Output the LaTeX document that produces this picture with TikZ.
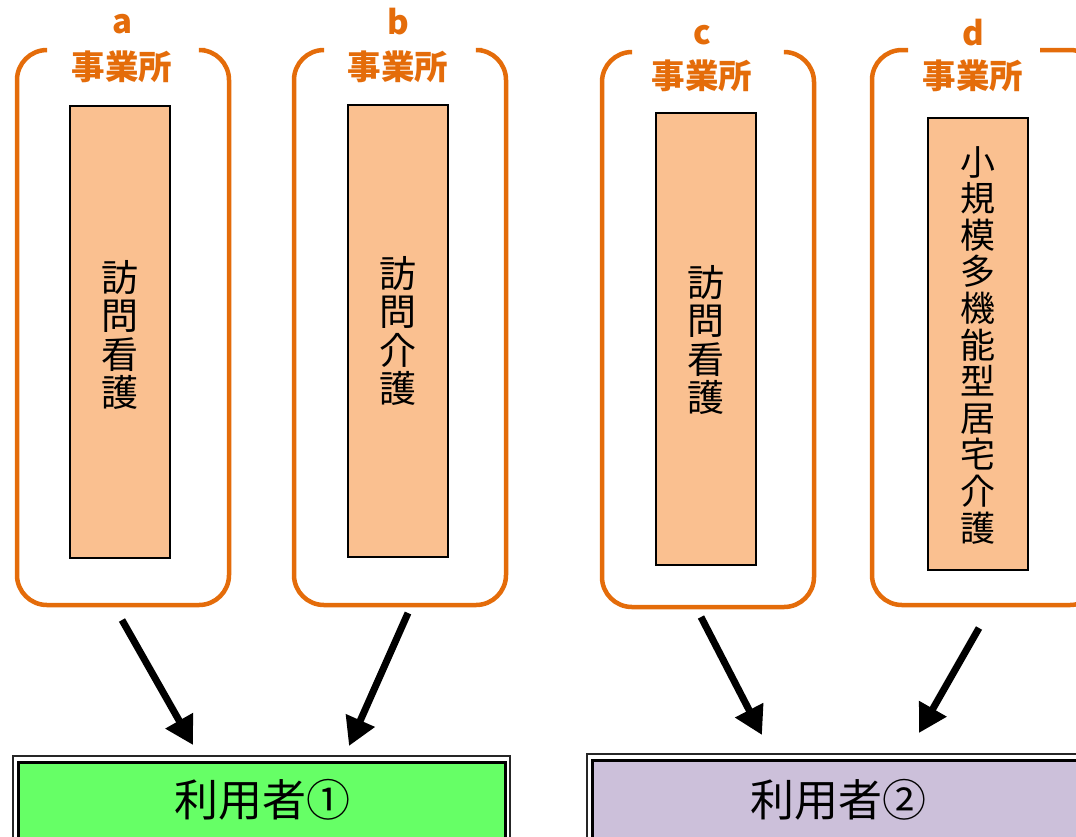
\documentclass[tikz,border=0pt]{standalone}
\usepackage{fontspec}
\newfontfamily\jp{Noto Sans CJK JP}
\usetikzlibrary{arrows.meta}
\definecolor{orng}{HTML}{E46C0A}
\definecolor{svcfill}{HTML}{FAC090}
\definecolor{grn}{HTML}{66FF66}
\definecolor{lav}{HTML}{CCC0DA}
\newcommand{\grpframe}[6]{% x1 x2 ytop ybot gapL gapR
  \draw[frm] (#5,#3) -| (#1,#4) -| (#2,#3) -- (#6,#3);}
\begin{document}
\begin{tikzpicture}[x=1pt,y=-1pt,
  frm/.style={draw=orng,line width=4.5pt,rounded corners=30pt},
  lbl/.style={text=orng,font=\jp\bfseries\fontsize{33.5}{33.5}\selectfont,inner sep=0pt},
  ltr/.style={text=orng,font=\jp\bfseries\fontsize{33}{33}\selectfont,inner sep=0pt},
  svc/.style={draw=black,line width=2pt,fill=svcfill,minimum width=100pt,minimum height=452pt,inner sep=0pt,align=center},
  vt/.style={font=\jp\fontsize{37}{38.5}\selectfont},
  vtd/.style={font=\jp\fontsize{35}{36.6}\selectfont},
  arr/.style={line width=7pt,-{Triangle[length=28pt,width=30pt]}},
  uout/.style={draw=black!85,line width=1.8pt,fill=white,inner sep=0pt},
  uin/.style={draw=black,line width=3pt,inner sep=0pt},
  utxt/.style={font=\jp\fontsize{44}{44}\selectfont,inner sep=0pt},
  ]
\useasboundingbox (0,0) rectangle (1076,836);
\clip (0,0) rectangle (1076,836);

% group frames
\grpframe{17}{229}{50}{605}{44}{205}
\grpframe{294}{506}{50}{605}{321}{482}
\grpframe{602}{814}{52}{607}{629}{788}
\grpframe{872}{1100}{50}{605}{908}{1040}

% labels
\node[ltr] (la) at (122,24) {a};
\node[lbl] (ja) at (122,67) {事業所};
\node[ltr] (lb) at (398,22) {b};
\node[lbl] (jb) at (398,67) {事業所};
\node[ltr] (lc) at (702,35) {c};
\node[lbl] (jc) at (702,76) {事業所};
\node[ltr] (ld) at (973,33) {d};
\node[lbl] (jd) at (973,76) {事業所};

% service boxes
\node[svc] (sa) at (119.5,332) {};
\node[vt] (ta) at (120,335) [align=center] {訪\\問\\看\\護};
\node[svc] (sb) at (398,331) {};
\node[vt] (tb) at (398,331) [align=center] {訪\\問\\介\\護};
\node[svc] (sc) at (705.5,339) {};
\node[vt] (tc) at (706,340) [align=center] {訪\\問\\看\\護};
\node[svc] (sd) at (977.5,344) {};
\node[vtd] (td) at (978,345) [align=center] {小\\規\\模\\多\\機\\能\\型\\居\\宅\\介\\護};

% user boxes
\node[uout,minimum width=497pt,minimum height=100pt,anchor=north west] (u1) at (12,755) {};
\node[uin,fill=grn,minimum width=487pt,minimum height=90pt,anchor=north west] (u1i) at (17,761) {};
\node[utxt] (u1t) at (262,800) {利用者①};
\node[uout,minimum width=520pt,minimum height=100pt,anchor=north west] (u2) at (586,753) {};
\node[uin,fill=lav,minimum width=510pt,minimum height=90pt,anchor=north west] (u2i) at (591,759) {};
\node[utxt] (u2t) at (838,800) {利用者②};

% arrows
\coordinate (a1) at (122,620); \coordinate (a2) at (193,745);
\coordinate (b1) at (408,613); \coordinate (b2) at (349,746);
\coordinate (c1) at (701,617); \coordinate (c2) at (762,735);
\coordinate (d1) at (979,628); \coordinate (d2) at (919,733);
\draw[arr] (a1) -- (a2);
\draw[arr] (b1) -- (b2);
\draw[arr] (c1) -- (c2);
\draw[arr] (d1) -- (d2);
\end{tikzpicture}
\end{document}
